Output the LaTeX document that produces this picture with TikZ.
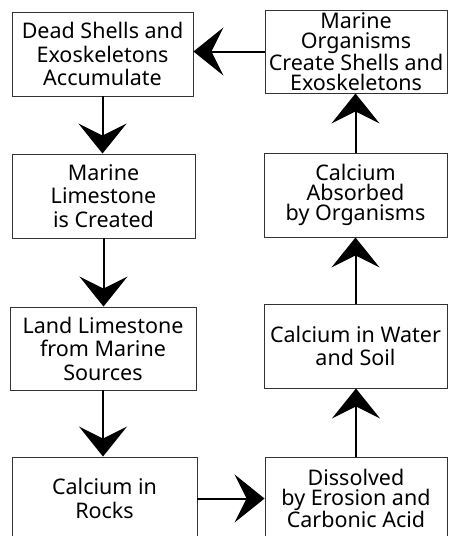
\documentclass[tikz,border=0pt]{standalone}
\usepackage{fontspec}
\setmainfont{Noto Sans}
\usetikzlibrary{arrows.meta}
\begin{document}
\begin{tikzpicture}[x=1pt,y=-1pt,
  box/.style={draw=black!80, line width=0.9pt, inner sep=0pt, align=center,
              font=\fontsize{21.5}{23.5}\selectfont},
  tight/.style={font=\fontsize{21.5}{20}\selectfont},
  flow/.style={line width=2pt, -{Stealth[length=30pt,width=48pt,inset=12pt]}},
]
\useasboundingbox (0,0) rectangle (448,536);
\clip (0,0) rectangle (448,536);

% left column (top to bottom)
\node[box, minimum width=181pt, minimum height=84pt] (dead)  at (102.5,54)
  {Dead Shells and\\Exoskeletons\\Accumulate};
\node[box, minimum width=183pt, minimum height=84pt] (lime)  at (103.5,196)
  {Marine\\Limestone\\is Created};
\node[box, minimum width=186pt, minimum height=83pt] (land)  at (103,348.5)
  {Land Limestone\\from Marine\\Sources};
\node[box, minimum width=185pt, minimum height=83pt] (rocks) at (104.5,498.5)
  {Calcium in\\Rocks};

% right column (top to bottom)
\node[box, tight, minimum width=182pt, minimum height=83pt] (shells) at (356,51.5)
  {Marine\\Organisms\\Create Shells and\\Exoskeletons};
\node[box, tight, minimum width=183pt, minimum height=84pt] (absorb) at (355.5,195)
  {Calcium\\Absorbed\\by Organisms};
\node[box, minimum width=183pt, minimum height=84pt] (water)  at (355.5,346)
  {Calcium in Water\\and Soil};
\node[box, tight, minimum width=182pt, minimum height=83pt] (diss) at (356,498.5)
  {Dissolved\\by Erosion and\\Carbonic Acid};

% cycle connectors
\draw[flow] (shells.west) -- (shells.west -| dead.east);
\draw[flow] (dead.south)  -- (dead.south |- lime.north);
\draw[flow] (lime.south)  -- (lime.south |- land.north);
\draw[flow] (land.south)  -- (land.south |- rocks.north);
\draw[flow] (rocks.east)  -- (rocks.east -| diss.west);
\draw[flow] (diss.north)  -- (diss.north |- water.south);
\draw[flow] (water.north) -- (water.north |- absorb.south);
\draw[flow] (absorb.north) -- (absorb.north |- shells.south);
\end{tikzpicture}
\end{document}
